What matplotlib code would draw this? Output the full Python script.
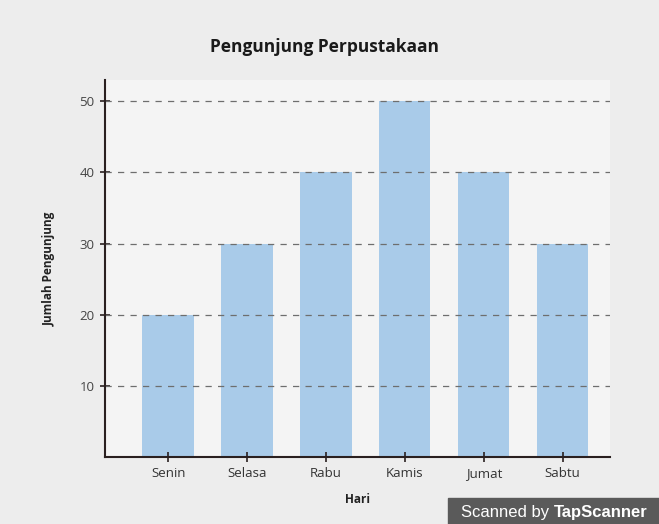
import matplotlib.pyplot as plt

hari = ['Senin', 'Selasa', 'Rabu', 'Kamis', 'Jumat', 'Sabtu']
pengunjung = [20, 30, 40, 50, 40, 30]
yticks = [10, 20, 30, 40, 50]

plt.rcParams['font.family'] = ['Open Sans', 'DejaVu Sans']

fig = plt.figure(figsize=(6.59, 5.24), dpi=100, facecolor='#ededed')
ax = fig.add_axes([105 / 659, 1 - 457 / 524, 505 / 659, 377 / 524])
ax.set_facecolor('#f4f4f4')

x = list(range(len(hari)))
ax.bar(x, pengunjung, width=0.65, color='#a9cbe9', zorder=1)
for v in yticks:
    ax.axhline(v, color='#6e6e6e', linestyle=(0, (5, 5)), linewidth=0.9, zorder=2)

ax.set_xlim(-0.8, 5.6)
ax.set_ylim(0, 53)
ax.set_xticks(x)
ax.set_xticklabels(hari, fontsize=9.5, color='#333333')
ax.set_yticks(yticks)
ax.set_yticklabels([str(v) for v in yticks], fontsize=9.5, color='#444444')
ax.tick_params(axis='both', length=7, width=1.2, color='#2a2020')
ax.tick_params(axis='x', direction='inout', pad=4)
ax.tick_params(axis='y', direction='inout', pad=4)

for s in ['top', 'right']:
    ax.spines[s].set_visible(False)
for s in ['left', 'bottom']:
    ax.spines[s].set_color('#2a2020')
    ax.spines[s].set_linewidth(1.5)

ax.set_xlabel('Hari', fontsize=8.5, fontweight='bold', color='#222222', labelpad=9)
ax.set_ylabel('Jumlah Pengunjung', fontsize=8.5, fontweight='bold', color='#222222', labelpad=17)
fig.text(325 / 659, 1 - 47 / 524, 'Pengunjung Perpustakaan', ha='center', va='center',
         fontsize=12.5, fontweight='bold', color='#1a1a1a')

# scanner watermark in the bottom-right corner
fig.patches.append(plt.Rectangle((448 / 659, 0), 211 / 659, 26 / 524,
                                 transform=fig.transFigure, color='#5a5a5a', zorder=5))
t1 = fig.text(461 / 659, 12 / 524, 'Scanned by ', ha='left', va='center', fontsize=12,
              color='white', family=['Liberation Sans'], zorder=6)
fig.add_artist(plt.Annotation('TapScanner', xy=(1, 0.5), xycoords=t1, ha='left', va='center',
                              fontsize=12, color='white', fontweight='bold',
                              family=['Liberation Sans'], zorder=6))

fig.savefig('out.png', dpi=100, facecolor=fig.get_facecolor())
